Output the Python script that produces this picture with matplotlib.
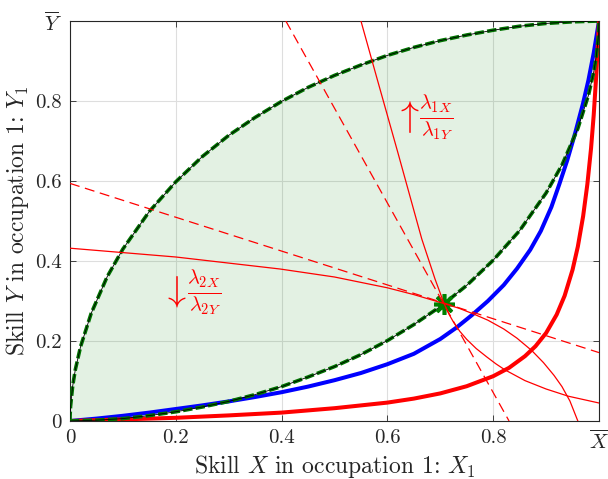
import matplotlib
matplotlib.use("Agg")
import matplotlib.pyplot as plt

# upper / lower boundary of the shaded feasible set
upper_x = [0, 0.0002, 0.001, 0.005, 0.01, 0.02, 0.04, 0.07, 0.1, 0.15, 0.2, 0.25, 0.3, 0.35,
           0.4, 0.45, 0.5, 0.55, 0.6, 0.65, 0.7, 0.75, 0.8, 0.85, 0.9, 0.95, 1]
upper_y = [0, 0.014, 0.036, 0.087, 0.128, 0.186, 0.269, 0.360, 0.430, 0.524, 0.598, 0.661, 0.714, 0.759,
           0.799, 0.834, 0.864, 0.890, 0.914, 0.934, 0.951, 0.965, 0.977, 0.987, 0.994, 0.998, 1]
lower_x = [0, 0.05, 0.1, 0.15, 0.2, 0.25, 0.3, 0.35, 0.4, 0.45, 0.5, 0.55, 0.6, 0.65, 0.7,
           0.75, 0.8, 0.85, 0.9, 0.93, 0.96, 0.98, 0.99, 0.995, 0.999, 0.9998, 1]
lower_y = [0, 0.002, 0.006, 0.0135, 0.023, 0.035, 0.049, 0.066, 0.086, 0.110, 0.136, 0.166, 0.201, 0.241, 0.286,
           0.339, 0.402, 0.476, 0.570, 0.640, 0.731, 0.814, 0.872, 0.913, 0.964, 0.986, 1]

# thick blue and red curves
blue_x = [0, 0.05, 0.1, 0.15, 0.2, 0.25, 0.3, 0.35, 0.4, 0.45, 0.5, 0.55, 0.6, 0.65, 0.7, 0.73,
          0.76, 0.79, 0.82, 0.845, 0.87, 0.89, 0.91, 0.925, 0.94, 0.955, 0.97, 0.98, 0.99, 1]
blue_y = [0, 0.006, 0.013, 0.021, 0.030, 0.039, 0.049, 0.060, 0.072, 0.086, 0.102, 0.120, 0.142, 0.168, 0.205, 0.233,
          0.265, 0.300, 0.340, 0.381, 0.428, 0.475, 0.535, 0.592, 0.652, 0.720, 0.795, 0.852, 0.920, 1]
red_x = [0, 0.1, 0.2, 0.3, 0.4, 0.5, 0.6, 0.65, 0.7, 0.75, 0.8, 0.83, 0.86, 0.88, 0.9, 0.92,
         0.935, 0.95, 0.96, 0.97, 0.978, 0.985, 0.99, 0.995, 1]
red_y = [0, 0.004, 0.008, 0.014, 0.021, 0.032, 0.046, 0.056, 0.069, 0.087, 0.112, 0.133, 0.162, 0.187, 0.220, 0.266,
         0.313, 0.378, 0.436, 0.512, 0.592, 0.682, 0.765, 0.868, 1]

# thin red curves through the equilibrium point
iso2_x = [0, 0.2, 0.397, 0.5, 0.6, 0.65, 0.706, 0.735, 0.762, 0.79, 0.82, 0.845, 0.873,
          0.895, 0.915, 0.93, 0.945, 0.96]
iso2_y = [0.432, 0.41, 0.38, 0.36, 0.333, 0.316, 0.294, 0.282, 0.268, 0.252, 0.230, 0.207, 0.176,
          0.146, 0.114, 0.086, 0.050, 0.0]
iso1_x = [0.55, 0.58, 0.62, 0.665, 0.69, 0.707, 0.716, 0.725, 0.737, 0.75, 0.768, 0.788, 0.805,
          0.822, 0.86, 0.9, 0.942, 1.0]
iso1_y = [1.0, 0.858, 0.67, 0.455, 0.355, 0.294, 0.268, 0.247, 0.224, 0.204, 0.181, 0.160, 0.143,
          0.128, 0.101, 0.080, 0.062, 0.045]

# dashed tangent lines
tan2_x = [0, 1]
tan2_y = [0.594, 0.171]
tan1_x = [0.408, 0.83]
tan1_y = [1, 0]

eq_x, eq_y = 0.707, 0.293

xticks = [0, 0.2, 0.4, 0.6, 0.8, 1]
xticklabels = ["0", "0.2", "0.4", "0.6", "0.8", r"$\overline{X}$"]
yticks = [0, 0.2, 0.4, 0.6, 0.8, 1]
yticklabels = ["0", "0.2", "0.4", "0.6", "0.8", r"$\overline{Y}$"]


def main() -> None:
    plt.rcParams.update({
        "font.family": "serif",
        "font.serif": ["cmr10"],
        "mathtext.fontset": "cm",
        "axes.unicode_minus": False,
    })
    dark = "#262626"
    green = (0, 0.45, 0)

    fig = plt.figure(figsize=(6.08, 4.79), dpi=100)
    ax = fig.add_axes([70 / 608, 1 - 421 / 479, 529 / 608, 400 / 479])

    ax.fill(upper_x + lower_x[::-1], upper_y + lower_y[::-1],
            color=(0, 0.5, 0), alpha=0.11, lw=0, zorder=1)

    ax.plot(blue_x, blue_y, color="blue", lw=2.9, zorder=3, solid_capstyle="butt")
    ax.plot(red_x, red_y, color="red", lw=2.9, zorder=3, solid_capstyle="butt")

    for xs, ys in ((upper_x, upper_y), (lower_x, lower_y)):
        ax.plot(xs, ys, color=green, lw=2.6, dashes=(2.6, 0.9), zorder=4)
        ax.plot(xs, ys, color="black", lw=0.6, zorder=4)

    ax.plot(eq_x, eq_y, marker=(8, 2, 0), ms=15, mew=2.6, color=(0, 0.5, 0), zorder=5)

    ax.plot(iso2_x, iso2_y, color="red", lw=0.9, zorder=6)
    ax.plot(iso1_x, iso1_y, color="red", lw=0.9, zorder=6)
    ax.plot(tan2_x, tan2_y, color="red", lw=0.9, dashes=(8, 4.5), zorder=6)
    ax.plot(tan1_x, tan1_y, color="red", lw=0.9, dashes=(8, 4.5), zorder=6)

    # annotations
    ax.text(0.637, 0.759, r"$\uparrow$", color="red", fontsize=26, ha="center", va="center")
    ax.text(0.66, 0.759, r"$\frac{\lambda_{1X}}{\lambda_{1Y}}$", color="red", fontsize=21,
            ha="left", va="center")
    ax.text(0.197, 0.324, r"$\downarrow$", color="red", fontsize=26, ha="center", va="center")
    ax.text(0.221, 0.323, r"$\frac{\lambda_{2X}}{\lambda_{2Y}}$", color="red", fontsize=21,
            ha="left", va="center")

    # aesthetics
    ax.set_xlim(0, 1)
    ax.set_ylim(0, 1)
    ax.set_xticks(xticks, xticklabels)
    ax.set_yticks(yticks, yticklabels)
    ax.tick_params(direction="in", top=True, right=True, length=4, width=0.6,
                   colors=dark, labelsize=15, pad=6)
    ax.grid(True, color="#dedede", lw=0.8)
    ax.set_axisbelow(True)
    for sp in ax.spines.values():
        sp.set_color(dark)
        sp.set_linewidth(0.8)
    ax.set_xlabel(r"Skill $X$ in occupation 1: $X_1$", fontsize=17, color=dark, labelpad=0)
    ax.set_ylabel(r"Skill $Y$ in occupation 1: $Y_1$", fontsize=17, color=dark, labelpad=3)

    fig.savefig("out.png", dpi=100)


if __name__ == "__main__":
    main()
